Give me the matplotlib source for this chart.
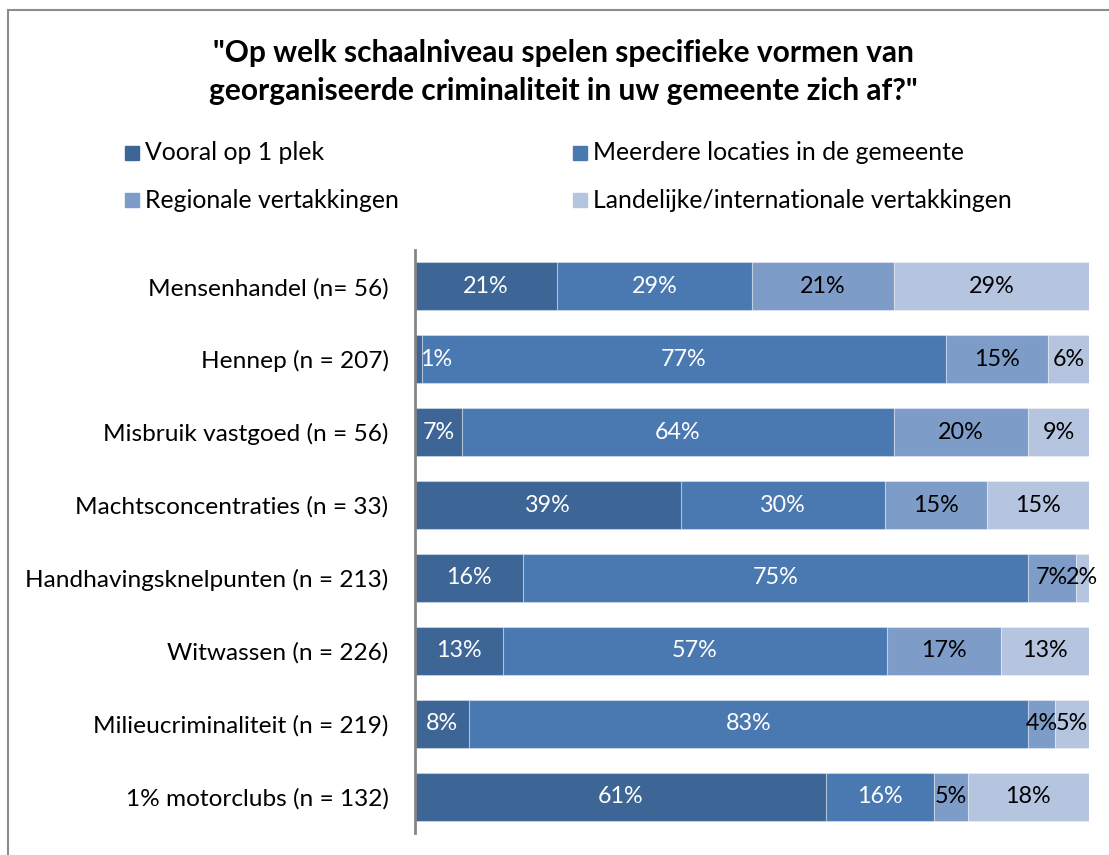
import matplotlib
matplotlib.use("Agg")
import matplotlib.pyplot as plt
import numpy as np
from matplotlib.patches import Rectangle

plt.rcParams['font.family'] = ['Lato', 'DejaVu Sans']

title = '"Op welk schaalniveau spelen specifieke vormen van\ngeorganiseerde criminaliteit in uw gemeente zich af?"'
categories = ["Mensenhandel (n= 56)", "Hennep (n = 207)", "Misbruik vastgoed (n = 56)",
              "Machtsconcentraties (n = 33)", "Handhavingsknelpunten (n = 213)",
              "Witwassen (n = 226)", "Milieucriminaliteit (n = 219)", "1% motorclubs (n = 132)"]
series_names = ["Vooral op 1 plek", "Meerdere locaties in de gemeente",
                "Regionale vertakkingen", "Landelijke/internationale vertakkingen"]
vooral = [21, 1, 7, 39, 16, 13, 8, 61]
meerdere = [29, 77, 64, 30, 75, 57, 83, 16]
regionaal = [21, 15, 20, 15, 7, 17, 4, 5]
landelijk = [29, 6, 9, 15, 2, 13, 5, 18]

colors = ["#3D6696", "#4A79B2", "#7E9CC8", "#B5C4DF"]
text_colors = ["white", "white", "black", "black"]

series = np.array([vooral, meerdere, regionaal, landelijk], dtype=float)
totals = series.sum(axis=0)
shares = series / totals * 100

fig = plt.figure(figsize=(11.09, 8.55), dpi=100)
W, H = 1109, 855
ax = fig.add_axes([415 / W, 1 - 833 / H, 674 / W, 583 / H])

y = np.arange(len(categories))
left = np.zeros(len(categories))
for i in range(4):
    ax.barh(y, shares[i], left=left, height=0.66, color=colors[i],
            edgecolor=(1, 1, 1, 0.35), linewidth=0.8, label=series_names[i])
    for j in range(len(categories)):
        cx = left[j] + shares[i][j] / 2
        cx = max(cx, 3.1)
        ax.text(cx, y[j], f"{int(series[i][j])}%", ha='center', va='center',
                fontsize=16.8, color=text_colors[i])
    left += shares[i]

ax.set_xlim(0, 100)
ax.set_ylim(len(categories) - 0.5, -0.5)
ax.set_yticks(y)
ax.set_yticklabels(categories, fontsize=17.6)
ax.tick_params(axis='y', length=0, pad=19)
ax.set_xticks([])
for s in ['top', 'right', 'bottom']:
    ax.spines[s].set_visible(False)
ax.spines['left'].set_color('#868686')
ax.spines['left'].set_linewidth(2)

fig.text(563 / W, 1 - 72 / H, title, ha='center', va='center', fontsize=21.5,
         fontweight='bold', linespacing=1.4)

# legend
leg_pos = [(125, 153), (573, 153), (125, 200), (573, 200)]
for (lx, ly), c, name in zip(leg_pos, colors, series_names):
    fig.patches.append(Rectangle((lx / W, 1 - (ly + 7) / H), 14 / W, 14 / H,
                                 transform=fig.transFigure, color=c))
    fig.text((lx + 20) / W, 1 - ly / H, name, ha='left', va='center', fontsize=17.8)

# outer border
fig.patches.append(Rectangle((8 / W, -0.1), 1.2, 1 - 10 / H + 0.1, transform=fig.transFigure,
                             fill=False, edgecolor='#8C8C8C', linewidth=1.5))

fig.savefig("out.png", dpi=100)
